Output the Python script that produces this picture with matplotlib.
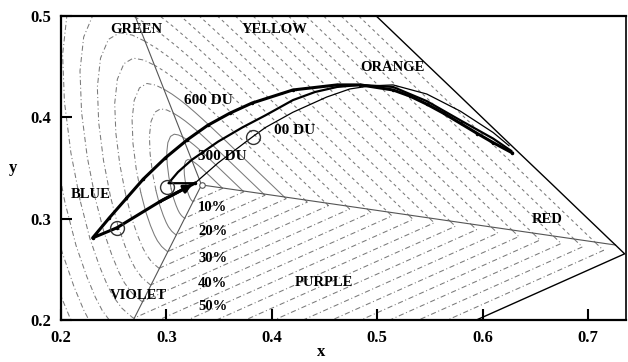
import numpy as np
import matplotlib.pyplot as plt

plt.rcParams['font.family'] = ['Liberation Serif', 'DejaVu Serif']
plt.rcParams['font.weight'] = 'bold'

# CIE 1931 2-degree spectral locus (wavelength nm, x, y)
wl = [380, 390, 400, 410, 420, 430, 440, 450, 460, 470, 475, 480, 485, 490,
      495, 500, 505, 510, 515, 520, 525, 530, 535, 540, 545, 550, 555, 560,
      565, 570, 575, 580, 585, 590, 595, 600, 610, 620, 630, 640, 650, 660,
      680, 700]
loc_x = [0.1741, 0.1738, 0.1733, 0.1726, 0.1714, 0.1689, 0.1644, 0.1566,
         0.1440, 0.1241, 0.1096, 0.0913, 0.0687, 0.0454, 0.0235, 0.0082,
         0.0039, 0.0139, 0.0389, 0.0743, 0.1142, 0.1547, 0.1929, 0.2296,
         0.2658, 0.3016, 0.3373, 0.3731, 0.4087, 0.4441, 0.4788, 0.5125,
         0.5448, 0.5752, 0.6029, 0.6270, 0.6658, 0.6915, 0.7079, 0.7190,
         0.7260, 0.7300, 0.7334, 0.7347]
loc_y = [0.0050, 0.0049, 0.0048, 0.0048, 0.0051, 0.0069, 0.0109, 0.0177,
         0.0297, 0.0578, 0.0868, 0.1327, 0.2007, 0.2950, 0.4127, 0.5384,
         0.6548, 0.7502, 0.8120, 0.8338, 0.8262, 0.8059, 0.7816, 0.7543,
         0.7243, 0.6923, 0.6589, 0.6245, 0.5896, 0.5547, 0.5202, 0.4866,
         0.4544, 0.4242, 0.3965, 0.3725, 0.3340, 0.3083, 0.2920, 0.2809,
         0.2740, 0.2700, 0.2666, 0.2653]

white_x, white_y = 0.3333, 0.3333

# hue sector boundaries (nm)
sector_wl = [380, 530, 650]

# excitation purity levels
purity = [0.05, 0.10, 0.15, 0.20, 0.25, 0.30, 0.35, 0.40, 0.45, 0.50,
          0.55, 0.60, 0.65, 0.70, 0.75, 0.80, 0.85, 0.90, 0.95]
purity_labels = ['10%', '20%', '30%', '40%', '50%']
purity_label_y = [0.311, 0.287, 0.261, 0.236, 0.213]

# sky chromaticity paths for three ozone columns
x600 = [0.327, 0.294, 0.253, 0.230, 0.246, 0.262, 0.278, 0.299, 0.320, 0.339,
        0.360, 0.381, 0.420, 0.462, 0.484, 0.515, 0.531, 0.547, 0.563, 0.579,
        0.595, 0.610, 0.628]
y600 = [0.335, 0.317, 0.291, 0.281, 0.301, 0.320, 0.339, 0.360, 0.378, 0.392,
        0.404, 0.414, 0.427, 0.432, 0.432, 0.427, 0.421, 0.413, 0.404, 0.394,
        0.384, 0.375, 0.365]
x300 = [0.327, 0.302, 0.311, 0.324, 0.349, 0.372, 0.394, 0.420, 0.441, 0.462,
        0.484, 0.515, 0.547, 0.579, 0.610, 0.627]
y300 = [0.335, 0.335, 0.346, 0.358, 0.376, 0.390, 0.402, 0.417, 0.425, 0.430,
        0.432, 0.430, 0.416, 0.397, 0.379, 0.367]
x000 = [0.327, 0.349, 0.382, 0.394, 0.420, 0.452, 0.474, 0.493, 0.515, 0.547,
        0.579, 0.610, 0.625]
y000 = [0.335, 0.355, 0.381, 0.390, 0.405, 0.420, 0.428, 0.431, 0.432, 0.423,
        0.406, 0.385, 0.372]
circle_x = [0.253, 0.301, 0.382]
circle_y = [0.291, 0.331, 0.381]

regions = ['GREEN', 'YELLOW', 'ORANGE', 'RED', 'PURPLE', 'VIOLET', 'BLUE']
region_x = [0.271, 0.403, 0.514, 0.661, 0.449, 0.273, 0.228]
region_y = [0.487, 0.487, 0.449, 0.299, 0.237, 0.224, 0.324]

du_labels = ['600 DU', '300 DU', '00 DU']
du_x = [0.340, 0.353, 0.422]
du_y = [0.417, 0.361, 0.387]


def scaled(xs, ys, p):
    xs = np.asarray(xs)
    ys = np.asarray(ys)
    return white_x + p * (xs - white_x), white_y + p * (ys - white_y)


fig = plt.figure(figsize=(6.28, 3.62), dpi=100)
ax = fig.add_axes([61 / 628, 42 / 362, 565 / 628, 304 / 362])

i380 = wl.index(380)
i490 = wl.index(490)
i530 = wl.index(530)
i650 = wl.index(650)
lx = np.array(loc_x)
ly = np.array(loc_y)
seg_blue = (lx[i380:i490 + 1], ly[i380:i490 + 1])
seg_green = (lx[i490:i530 + 1], ly[i490:i530 + 1])
seg_yell = (lx[i530:i650 + 1], ly[i530:i650 + 1])
seg_purp = (np.r_[lx[i650:], lx[0]], np.r_[ly[i650:], ly[0]])

gray = '#7a7a7a'
dashdot = (0, (5, 2.5, 1, 2.5))
for p in purity:
    cx, cy = scaled(*seg_blue, p)
    ls = '-' if p <= 0.2 else dashdot
    ax.plot(cx, cy, color=gray, lw=0.75, ls=ls, zorder=1)
    cx, cy = scaled(*seg_green, p)
    ls = '-' if p <= 0.1 else dashdot
    ax.plot(cx, cy, color=gray, lw=0.75, ls=ls, zorder=1)
    cx, cy = scaled(*seg_yell, p)
    ls = '-' if p <= 0.2 else (0, (3, 3))
    ax.plot(cx, cy, color=gray, lw=0.75, ls=ls, zorder=1)
    cx, cy = scaled(*seg_purp, p)
    ax.plot(cx, cy, color=gray, lw=0.75, ls=dashdot, zorder=1)

# sector lines from the white point
for w in sector_wl:
    i = wl.index(w)
    ax.plot([white_x, loc_x[i]], [white_y, loc_y[i]], color='#555555', lw=0.8, zorder=2)

# spectral locus and line of purples
ax.plot(loc_x + [loc_x[0]], loc_y + [loc_y[0]], color='k', lw=1.0, zorder=2)
ax.plot(white_x, white_y, 'o', ms=4, mfc='white', mec='#555555', mew=0.8, zorder=3)

ax.plot(x000, y000, color='k', lw=0.9, zorder=4)
ax.plot(x300, y300, color='k', lw=1.6, zorder=4)
ax.plot(x600, y600, color='k', lw=2.2, zorder=5)
ax.plot(x600, y600, 'k.', ms=3, zorder=5)
ax.annotate('', xy=(x600[0], y600[0]), xytext=(x600[1], y600[1]),
            arrowprops=dict(arrowstyle='-|>', color='k', lw=2.2, mutation_scale=12),
            zorder=6)
ax.plot(circle_x, circle_y, 'o', ms=10, mfc='none', mec='#333333', mew=1.0, zorder=6)

for name, tx, ty in zip(regions, region_x, region_y):
    ax.text(tx, ty, name, ha='center', va='center', fontsize=10.5, fontweight='bold', zorder=7)
for name, tx, ty in zip(du_labels, du_x, du_y):
    ax.text(tx, ty, name, ha='center', va='center', fontsize=11, fontweight='bold', zorder=7)
for name, ty in zip(purity_labels, purity_label_y):
    ax.text(0.344, ty, name, ha='center', va='center', fontsize=10.5, fontweight='bold', zorder=7)

ax.set_xlim(0.2, 0.736)
ax.set_ylim(0.2, 0.5)
ax.set_xticks([0.2, 0.3, 0.4, 0.5, 0.6, 0.7])
ax.set_yticks([0.2, 0.3, 0.4, 0.5])
ax.tick_params(direction='in', length=8, width=1.5, top=False, right=False,
               labelsize=12, pad=7)
for lab in ax.get_xticklabels() + ax.get_yticklabels():
    lab.set_fontweight('bold')
for s in ax.spines.values():
    s.set_linewidth(1.6)
ax.spines['right'].set_linewidth(1.2)

ax.set_xlabel('x', fontsize=12, fontweight='bold')
ax.set_ylabel('y', fontsize=12, fontweight='bold', rotation=0, va='center')
ax.xaxis.set_label_coords(0.46, -0.08)
ax.yaxis.set_label_coords(-0.085, 0.5)

fig.savefig('out.png', dpi=100)
